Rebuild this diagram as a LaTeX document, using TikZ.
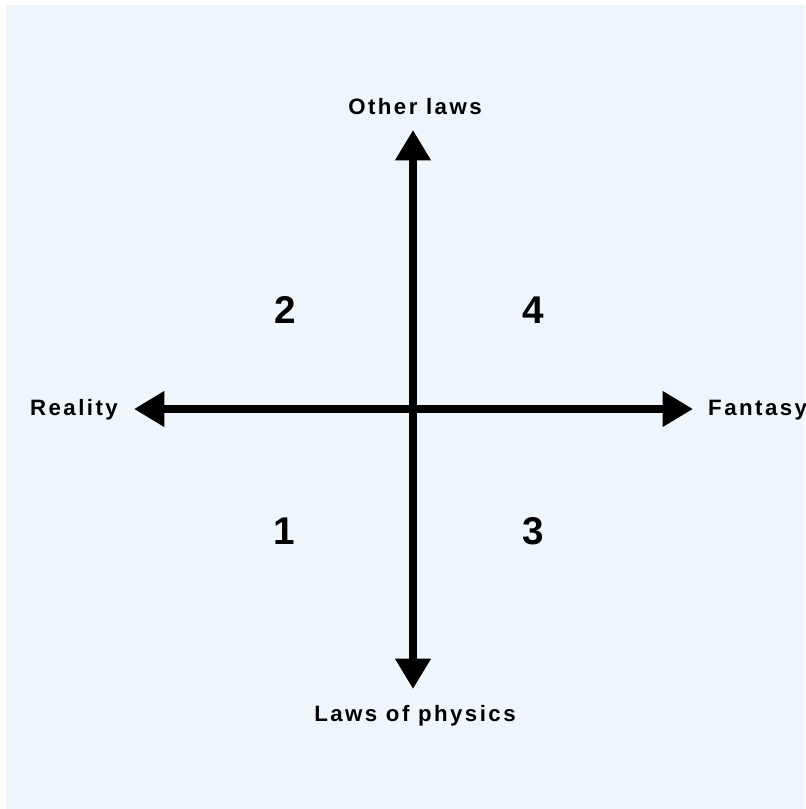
\documentclass[tikz,border=0pt]{standalone}
\usepackage{fontspec}
\setmainfont{Liberation Sans}
\newfontfamily\axisfont[LetterSpace=11]{Liberation Sans}
\usepackage{tikz}
\usetikzlibrary{arrows.meta, positioning}
\definecolor{paleblue}{RGB}{238,245,251}

\begin{document}
\begin{tikzpicture}[
        x=0.03cm, y=-0.03cm,
        % Global Styles
        axis/.style={line width=6.6pt, {Triangle[length=26pt, width=29pt]}-{Triangle[length=26pt, width=29pt]}},
        label/.style={font=\axisfont\fontsize{19}{19}\selectfont\bfseries, inner sep=0pt},
        quadrant/.style={font=\fontsize{33}{33}\selectfont\bfseries, inner sep=0pt}
    ]

    % --- Background ---
    \useasboundingbox (0,0) rectangle (805,809);
    \fill[white] (0,0) rectangle (805,809);
    \fill[paleblue] (6,5) rectangle (805,809);

    % --- Axis ends ---
    \coordinate (Top)    at (413,130);
    \coordinate (Bottom) at (413,689);
    \coordinate (Left)   at (134,409);
    \coordinate (Right)  at (693,409);

    % --- Axes ---
    \draw [axis] (Bottom) -- (Top);
    \draw [axis] (Left) -- (Right);

    % --- Axis labels ---
    \node (Other)   [label] at (415,107) {Other laws};
    \node (Physics) [label] at (415,716) {Laws of physics};
    \node (Reality) [label] at (74,410) {Reality};
    \node (Fantasy) [label, anchor=west] at (708,410) {Fantasy};

    % --- Quadrants ---
    \node (Q2) [quadrant] at (285,310) {2};
    \node (Q4) [quadrant] at (533,310) {4};
    \node (Q1) [quadrant] at (284,531) {1};
    \node (Q3) [quadrant] at (533,531) {3};

\end{tikzpicture}
\end{document}
